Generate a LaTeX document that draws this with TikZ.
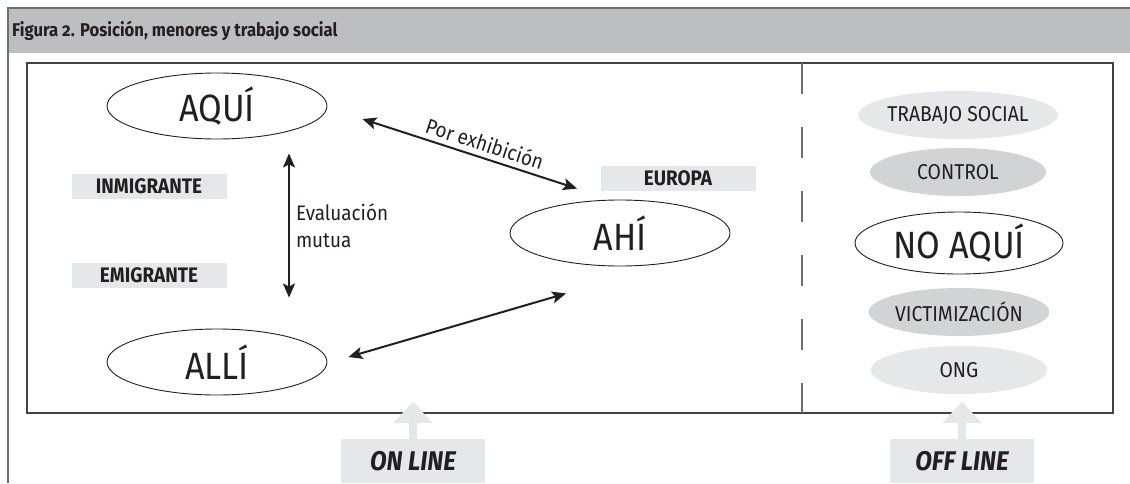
\documentclass[tikz,border=0pt]{standalone}
\usepackage{fontspec}
\setmainfont{Fira Sans}[FakeStretch=0.9,Numbers=OldStyle]
\usetikzlibrary{shapes.geometric,arrows.meta}
\definecolor{headgray}{HTML}{BCBEC0}
\definecolor{tagfill}{HTML}{E6E7E8}
\definecolor{midfill}{HTML}{D1D3D4}
\definecolor{framegray}{HTML}{6D6E71}
\definecolor{ink}{HTML}{231F20}
\tikzstyle{every node}=[text=ink,inner sep=0pt]
\tikzstyle{place}=[ellipse,draw=ink,line width=0.9pt,minimum width=220pt,minimum height=66pt,font=\fontsize{38}{40}\selectfont]
\tikzstyle{theme}=[ellipse,minimum width=176pt,minimum height=48pt,font=\fontsize{21.5}{23}\selectfont]
\tikzstyle{role}=[fill=tagfill,minimum width=155pt,minimum height=25pt,font=\bfseries\fontsize{21}{22}\selectfont]
\tikzstyle{mode}=[fill=tagfill,minimum width=144pt,minimum height=44pt,font=\bfseries\itshape\fontsize{27}{28}\selectfont]
\tikzstyle{both ways}=[{Stealth[length=14pt,width=12pt,inset=3pt]}-{Stealth[length=14pt,width=12pt,inset=3pt]},line width=2pt,draw=ink]

\begin{document}
\begin{tikzpicture}[x=1pt,y=-1pt]
  \useasboundingbox (0,0) rectangle (1130,483);
  % cabecera
  \fill[headgray] (8,9) rectangle (1130,53);
  \draw[framegray,line width=1.5pt] (8,483) -- (8,8) -- (1130,8);
  \node[anchor=west,font=\bfseries\fontsize{18.5}{20}\selectfont] (title) at (12,31)
    {Figura 2. Posición, menores y trabajo social};
  % marco on line / off line
  \draw[ink!85,line width=1.3pt] (27,63) rectangle (1113,413);
  \draw[framegray,line width=1.8pt,dash pattern=on 31pt off 33pt] (802,63) -- (802,413);

  \node[place] (aqui) at (217,106) {AQUÍ};
  \node[place] (ahi)  at (620,233) {AHÍ};
  \node[place] (alli) at (217,362) {ALLÍ};
  \node[place,minimum width=208pt,minimum height=62pt] (noaqui) at (959,243) {NO AQUÍ};

  \node[role] (inmigrante) at (149,186) {INMIGRANTE};
  \node[role] (emigrante)  at (149,275) {EMIGRANTE};
  \node[role] (europa)     at (678,178) {EUROPA};

  \node[theme,fill=tagfill] (trabajo) at (958,115) {TRABAJO SOCIAL};
  \node[theme,fill=midfill] (control) at (958,172) {CONTROL};
  \node[theme,fill=midfill] (victima) at (959,312) {VICTIMIZACIÓN};
  \node[theme,fill=tagfill] (ong)     at (959,370) {ONG};

  \draw[both ways] ([shift={(35,13)}]aqui.east) -- ([shift={(-43,-11)}]ahi.north)
    node[pos=0.55,above=5pt,sloped,font=\fontsize{21}{22}\selectfont] (porexh) {Por exhibición};
  \draw[both ways] ([shift={(72,14)}]aqui.south) -- ([shift={(72,-31)}]alli.north)
    node[midway,right=6pt,align=left,font=\fontsize{21}{27}\selectfont] (evalua) {Evaluación\\mutua};
  \draw[both ways] ([shift={(21,-5)}]alli.east) -- ([shift={(-54,27)}]ahi.south);

  % etiquetas inferiores
  \node[mode] (online)  at (413,461) {ON LINE};
  \node[mode] (offline) at (962,461) {OFF LINE};
  \foreach \m in {online,offline}
    \fill[tagfill] ([xshift=-4pt]\m.north) -- ++(0,-16) -- ++(-15.5,0) -- ++(19.5,-21)
      -- ++(19.5,21) -- ++(-15.5,0) -- ++(0,16) -- cycle;
\end{tikzpicture}
\end{document}
